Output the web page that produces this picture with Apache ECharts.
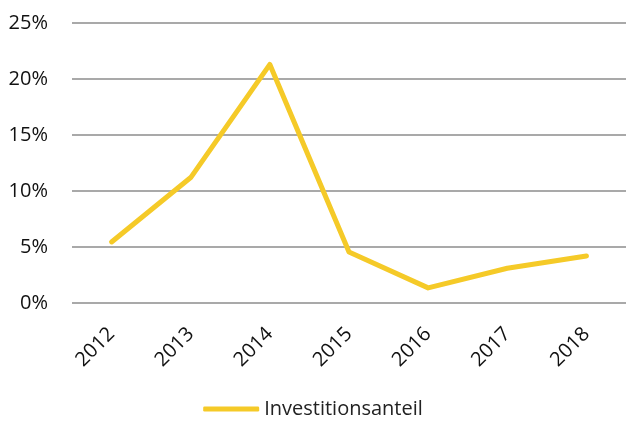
<!DOCTYPE html>
<html>
<head>
<meta charset="utf-8">
<script src="https://cdn.jsdelivr.net/npm/echarts@6/dist/echarts.min.js"></script>
<style>
  html, body { margin: 0; padding: 0; background: #fff; }
  #chart { width: 626px; height: 425px; }
</style>
</head>
<body>
<div id="chart"></div>
<script>
const years = ['2012', '2013', '2014', '2015', '2016', '2017', '2018']
const anteil = [5.45, 11.2, 21.3, 4.55, 1.35, 3.1, 4.2]
const seriesName = 'Investitionsanteil'

const font = "'Open Sans', sans-serif"
const chart = echarts.init(document.getElementById('chart'))

chart.setOption({
  animation: false,
  grid: { left: 72, right: 0, top: 23, bottom: 122 },
  legend: {
    bottom: 1,
    left: 'center',
    itemWidth: 56,
    itemHeight: 5,
    itemGap: 4,
    icon: 'roundRect',
    textStyle: { fontFamily: font, fontSize: 20, color: '#222' },
    data: [seriesName],
  },
  xAxis: {
    type: 'category',
    data: years,
    boundaryGap: true,
    axisLine: { show: false },
    axisTick: { show: false },
    axisLabel: {
      rotate: 45,
      margin: 28,
      fontFamily: font,
      fontSize: 20,
      color: '#111',
    },
  },
  yAxis: {
    type: 'value',
    min: 0,
    max: 25,
    interval: 5,
    axisLine: { show: false },
    axisTick: { show: false },
    axisLabel: {
      margin: 24,
      fontFamily: font,
      fontSize: 20,
      color: '#111',
      formatter: v => v + '%',
    },
    splitLine: { lineStyle: { color: '#8c8c8c', width: 1.5 } },
  },
  series: [
    {
      name: seriesName,
      type: 'line',
      data: anteil,
      symbol: 'none',
      lineStyle: { color: '#F5CA28', width: 5, cap: 'round', join: 'round' },
      itemStyle: { color: '#F5CA28' },
    },
  ],
})
</script>
</body>
</html>
